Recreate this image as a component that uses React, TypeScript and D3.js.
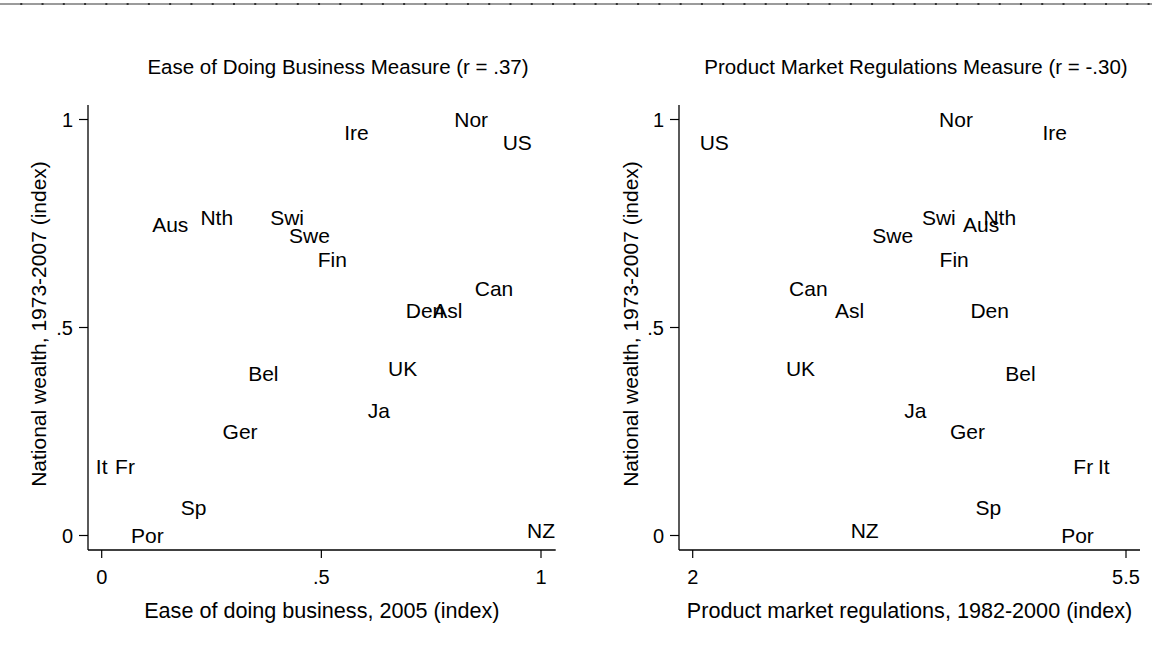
import * as d3 from "d3";

// countries, national wealth index, and the two regulation measures
const countries = ["Nor", "US", "Ire", "Aus", "Nth", "Swi", "Swe", "Fin", "Can", "Den", "Asl", "Bel", "UK", "Ja", "Ger", "It", "Fr", "Sp", "Por", "NZ"];
const wealth = [1.0, 0.944, 0.969, 0.748, 0.763, 0.764, 0.72, 0.664, 0.594, 0.54, 0.54, 0.388, 0.4, 0.3, 0.25, 0.165, 0.165, 0.068, 0.0, 0.011];
const easeOfBusiness = [0.841, 0.946, 0.58, 0.156, 0.262, 0.422, 0.473, 0.525, 0.893, 0.736, 0.788, 0.368, 0.685, 0.631, 0.315, 0.0, 0.053, 0.209, 0.104, 1.0];
const productMarket = [4.127, 2.174, 4.924, 4.33, 4.48, 3.988, 3.616, 4.112, 2.934, 4.399, 3.267, 4.647, 2.871, 3.798, 4.22, 5.32, 5.155, 4.389, 5.108, 3.389];

const yTicks = [0, 0.5, 1];
const leftXTicks = [0, 0.5, 1];
const rightXTicks = [2, 5.5];
const fmt = (v: number) => (v > 0 && v < 1 ? String(v).replace(/^0/, "") : String(v));

const FONT = "'Liberation Sans', Arial, Helvetica, sans-serif";
const W = 1152;
const H = 671;

type PanelProps = {
  title: string;
  titleX: number;
  xLabel: string;
  xValues: number[];
  xTicks: number[];
  xDomain: [number, number];
  xRange: [number, number];
  axisLeft: number;
  axisRight: number;
  yTitleX: number;
};

function Panel(p: PanelProps) {
  const x = d3.scaleLinear().domain(p.xDomain).range(p.xRange);
  const y = d3.scaleLinear().domain([0, 1]).range([535.5, 119.5]);
  const top = 105;
  const bottom = 550;
  const midX = (p.axisLeft + p.axisRight) / 2;

  return (
    <g fontFamily={FONT} fill="#000">
      <text x={p.titleX} y={74} fontSize={20.5} textAnchor="middle">{p.title}</text>

      {/* axes */}
      <line x1={p.axisLeft} x2={p.axisLeft} y1={top} y2={bottom} stroke="#000" strokeWidth={1.3} />
      <line x1={p.axisLeft} x2={p.axisRight} y1={bottom} y2={bottom} stroke="#000" strokeWidth={1.3} />

      {yTicks.map((t) => (
        <g key={"y" + t}>
          <line x1={p.axisLeft - 9} x2={p.axisLeft} y1={y(t)} y2={y(t)} stroke="#000" strokeWidth={1.2} />
          <text x={p.axisLeft - 15} y={y(t)} dy="0.35em" fontSize={20} textAnchor="end">{fmt(t)}</text>
        </g>
      ))}
      {p.xTicks.map((t) => (
        <g key={"x" + t}>
          <line x1={x(t)} x2={x(t)} y1={bottom} y2={bottom + 8} stroke="#000" strokeWidth={1.2} />
          <text x={x(t)} y={577} dy="0.35em" fontSize={20} textAnchor="middle">{fmt(t)}</text>
        </g>
      ))}

      <text x={midX} y={610} dy="0.35em" fontSize={21.6} textAnchor="middle">{p.xLabel}</text>
      <text
        transform={`translate(${p.yTitleX},324) rotate(-90)`}
        dy="0.35em"
        fontSize={21}
        textAnchor="middle"
      >
        National wealth, 1973-2007 (index)
      </text>

      {countries.map((c, i) => (
        <text key={c} x={x(p.xValues[i])} y={y(wealth[i])} dy="0.35em" fontSize={21} textAnchor="middle">
          {c}
        </text>
      ))}
    </g>
  );
}

export default function App() {
  const dots = d3.range(21.27, W, 21.27);
  return (
    <svg width={W} height={H} style={{ position: "absolute", left: 0, top: 0, background: "#fff" }}>
      <rect width={W} height={H} fill="#fff" />
      <line x1={0} x2={W} y1={4} y2={4} stroke="#7a7a7a" strokeWidth={1.5} />
      {dots.map((d) => (
        <rect key={d} x={d - 1} y={3} width={2} height={2} fill="#333" />
      ))}
      <Panel
        title="Ease of Doing Business Measure (r = .37)"
        titleX={338}
        xLabel="Ease of doing business, 2005 (index)"
        xValues={easeOfBusiness}
        xTicks={leftXTicks}
        xDomain={[0, 1]}
        xRange={[101.7, 541]}
        axisLeft={88}
        axisRight={555.7}
        yTitleX={39}
      />
      <Panel
        title="Product Market Regulations Measure (r = -.30)"
        titleX={916}
        xLabel="Product market regulations, 1982-2000 (index)"
        xValues={productMarket}
        xTicks={rightXTicks}
        xDomain={[2, 5.5]}
        xRange={[692.7, 1126]}
        axisLeft={679}
        axisRight={1140}
        yTitleX={631}
      />
    </svg>
  );
}
